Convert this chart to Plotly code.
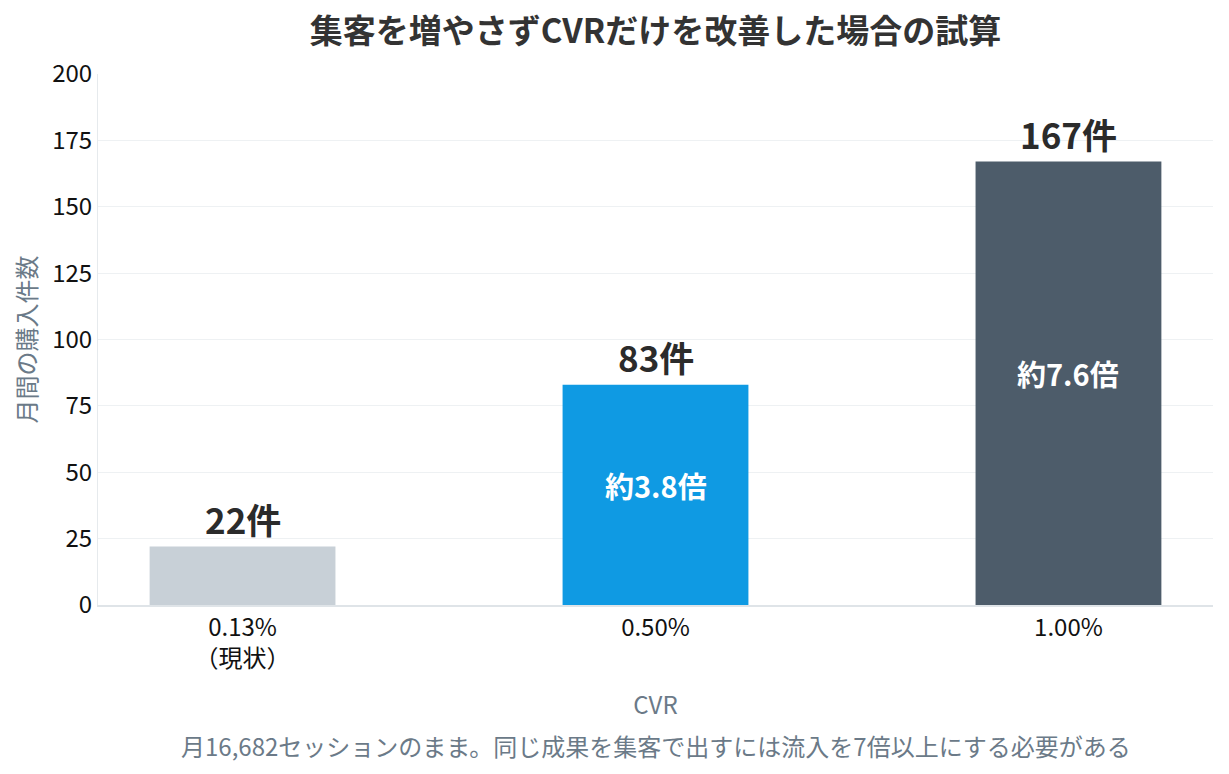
import plotly.graph_objects as go

# data
cvr_labels = ["0.13%<br>（現状）", "0.50%", "1.00%"]
purchases = [22, 83, 167]
count_labels = ["22件", "83件", "167件"]
ratio_labels = ["", "約3.8倍", "約7.6倍"]
bar_colors = ["#c8d0d7", "#0f9ae3", "#4d5c6a"]

FONT = "Noto Sans CJK JP"
GRAY = "#6b7a88"

fig = go.Figure(go.Bar(
    x=cvr_labels,
    y=purchases,
    marker=dict(color=bar_colors, line=dict(width=0)),
    width=0.45,
    hoverinfo="skip",
))

# counts above bars
for lab, v, c in zip(cvr_labels, purchases, count_labels):
    fig.add_annotation(x=lab, y=v, text="<b>" + c + "</b>", showarrow=False,
                       yanchor="middle", yshift=28,
                       font=dict(family=FONT, size=35, color="#2b2b2b"))

# multiples inside bars
for lab, v, r in zip(cvr_labels, purchases, ratio_labels):
    if r:
        fig.add_annotation(x=lab, y=v / 2, text="<b>" + r + "</b>", showarrow=False,
                           yanchor="middle", yshift=10,
                           font=dict(family=FONT, size=29, color="white"))

fig.add_annotation(xref="paper", yref="paper", x=0.5, y=0, yanchor="middle", yshift=-140,
                   text="月16,682セッションのまま。同じ成果を集客で出すには流入を7倍以上にする必要がある",
                   showarrow=False, font=dict(family=FONT, size=24, color=GRAY))

fig.update_layout(
    width=1229, height=774,
    margin=dict(l=90, r=24, t=66, b=177),
    paper_bgcolor="white", plot_bgcolor="white",
    font=dict(family=FONT),
    title=dict(text="<b>集客を増やさずCVRだけを改善した場合の試算</b>",
               x=0.5, xref="paper", xanchor="center",
               y=1 - 23 / 774, yref="container", yanchor="middle",
               font=dict(family=FONT, size=33, color="#333333")),
    showlegend=False,
)

fig.update_xaxes(
    type="category", range=[-0.35, 2.35],
    tickfont=dict(family=FONT, size=24, color="#111111"),
    title=dict(text="CVR", font=dict(family=FONT, size=24, color=GRAY), standoff=24),
    showline=True, linecolor="#dfe4e8", linewidth=2,
    showgrid=False, ticks="",
)
fig.update_yaxes(
    range=[0, 200], dtick=25,
    tickfont=dict(family=FONT, size=24, color="#111111"),
    title=dict(text="月間の購入件数", font=dict(family=FONT, size=24, color=GRAY), standoff=12),
    showline=True, linecolor="#e6eaed", linewidth=1,
    gridcolor="#eef1f3", gridwidth=1, zeroline=False, ticks="",
)

fig.write_html("out.html")
